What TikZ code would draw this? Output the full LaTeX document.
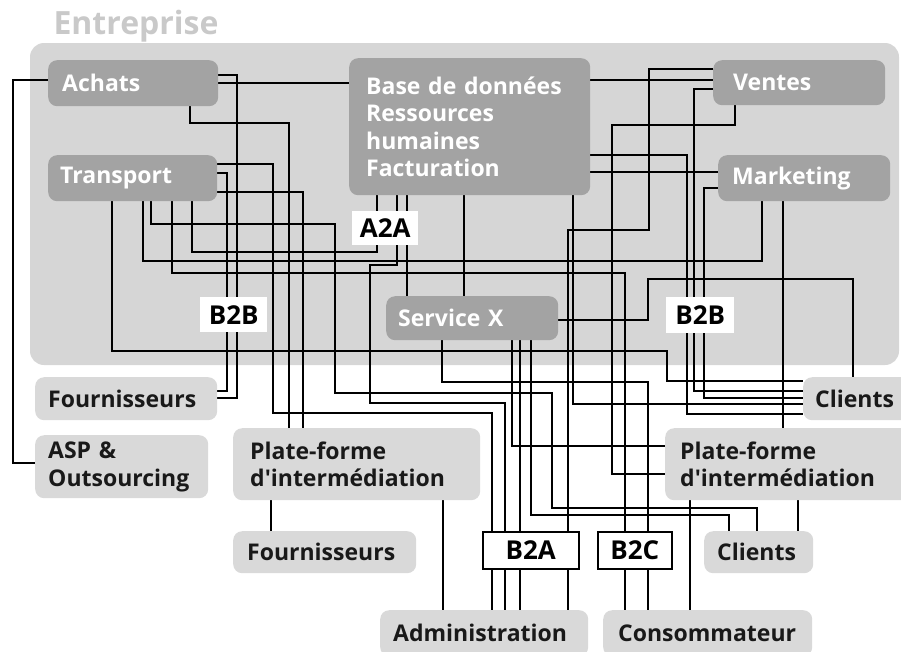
\documentclass[tikz,border=0pt]{standalone}
\usepackage{fontspec}
\setmainfont{Open Sans}
\usetikzlibrary{positioning}

\definecolor{entgris}{gray}{0.84}
\definecolor{boxfonce}{gray}{0.64}
\definecolor{boxclair}{gray}{0.85}
\definecolor{titregris}{gray}{0.79}

\pgfdeclarelayer{fond}
\pgfdeclarelayer{fils}
\pgfsetlayers{fond,fils,main}

\begin{document}
\begin{tikzpicture}[x=1pt, y=-1pt,
    fonce/.style={fill=boxfonce, rounded corners=9pt, text=white, align=left,
        font=\bfseries\fontsize{23}{27.5}\selectfont, inner xsep=14pt, inner ysep=0pt,
        minimum height=46pt, anchor=north west},
    clair/.style={fonce, fill=boxclair, text=black!90},
    etiq/.style={fill=white, inner sep=0pt, anchor=north west,
        font=\bfseries\fontsize{26}{28}\selectfont},
    fil/.style={draw=black, line width=1.8pt}]

    % page and frame
    \useasboundingbox (0,0) rectangle (901,651);
    \clip (0,0) rectangle (901,651);
    \node[anchor=base west, text=titregris, font=\bfseries\fontsize{32}{34}\selectfont] (titre) at (50,34) {Entreprise};
    \begin{pgfonlayer}{fond}
        \fill[entgris, rounded corners=14pt] (30,43) rectangle (899,365);
    \end{pgfonlayer}

    % inside the company
    \node[fonce, text width=142pt] (achats) at (48,60) {Achats};
    \node[fonce, text width=145pt, inner xsep=12pt] (transport) at (48,155) {Transport};
    \node[fonce, text width=207pt, inner xsep=17pt, minimum height=137pt] (bdd) at (349,58)
        {Base de données\\Ressources\\humaines\\Facturation};
    \node[fonce, text width=132pt, inner xsep=20pt, minimum height=45pt] (ventes) at (713,60) {Ventes};
    \node[fonce, text width=144pt] (marketing) at (718,155) {Marketing};
    \node[fonce, text width=148pt, inner xsep=12pt, minimum height=44pt] (servicex) at (386,296) {Service X};

    % outside partners
    \node[clair, text width=156pt, inner xsep=13pt, minimum height=43pt] (fourn1) at (35,377) {Fournisseurs};
    \node[clair, text width=147pt, inner xsep=13pt, minimum height=63pt] (asp) at (35,435) {ASP \&\\Outsourcing};
    \node[clair, text width=213pt, inner xsep=17pt, minimum height=72pt] (pfl) at (233,428)
        {Plate-forme\\d\textquotesingle intermédiation};
    \node[clair, text width=155pt, minimum height=42pt] (fourn2) at (233,531) {Fournisseurs};
    \node[clair, text width=83pt, inner xsep=12pt, minimum height=43pt] (clientsr) at (803,377) {Clients};
    \node[clair, text width=215pt, inner xsep=15pt, minimum height=72pt] (pfr) at (665,428)
        {Plate-forme\\d\textquotesingle intermédiation};
    \node[clair, text width=83pt, inner xsep=13pt, minimum height=42pt] (clientsb) at (704,531) {Clients};
    \node[clair, text width=182pt, inner xsep=13pt] (admin) at (380,610) {Administration};
    \node[clair, text width=179pt, inner xsep=15pt] (conso) at (603,610) {Consommateur};

    % connectors
    \begin{pgfonlayer}{fils}
        \draw[fil] (achats.west |- 0,80) -| (13,463) -- (asp.west |- 0,463);
        \draw[fil] (achats.east |- 0,75) -| (237,398) -- (fourn1.east |- 0,398);
        \draw[fil] (achats.east |- 0,83) -- (bdd.west |- 0,83);
        \draw[fil] (achats.south -| 190,0) |- (289,123) -- (pfl.north -| 289,0);
        \draw[fil] (transport.east |- 0,164) -| (273,413) -| (admin.north -| 492,0);
        \draw[fil] (transport.east |- 0,173) -| (227,391) -- (fourn1.east |- 0,391);
        \draw[fil] (transport.east |- 0,192) -| (pfl.north -| 303,0);
        \draw[fil] (transport.south -| 112,0) |- (667,351) |- (clientsr.west |- 0,381);
        \draw[fil] (transport.south -| 143,0) |- (762,261) -- (marketing.south -| 762,0);
        \draw[fil] (transport.south -| 151,0) |- (335,224) |- (552,393) |- (757,508) -- (clientsb.north -| 757,0);
        \draw[fil] (transport.south -| 172,0) |- (625,273) -- (conso.north -| 625,0);
        \draw[fil] (transport.south -| 192,0) |- (377,252) -- (bdd.south -| 377,0);
        \draw[fil] (bdd.south -| 397,0) |- (370,265) |- (505,403) -- (admin.north -| 505,0);
        \draw[fil] (bdd.south -| 407,0) -- (servicex.north -| 407,0);
        \draw[fil] (bdd.south -| 464,0) -- (servicex.north -| 464,0);
        \draw[fil] (bdd.south -| 573,0) |- (clientsr.west |- 0,404);
        \draw[fil] (bdd.east |- 0,80) -- (ventes.west |- 0,80);
        \draw[fil] (bdd.east |- 0,155) -| (687,414) -- (clientsr.west |- 0,414);
        \draw[fil] (bdd.east |- 0,172) -- (marketing.west |- 0,172);
        \draw[fil] (ventes.west |- 0,69) -| (649,230) -| (admin.north -| 568,0);
        \draw[fil] (ventes.west |- 0,89) -| (694,391) -- (clientsr.west |- 0,391);
        \draw[fil] (ventes.south -| 735,0) |- (612,125) |- (pfr.west |- 0,474);
        \draw[fil] (marketing.west |- 0,188) -| (704,398) -- (clientsr.west |- 0,398);
        \draw[fil] (marketing.south -| 783,0) -- (pfr.north -| 783,0);
        \draw[fil] (servicex.east |- 0,320) -| (648,279) -| (clientsr.north -| 853,0);
        \draw[fil] (servicex.south -| 442,0) |- (648,382) -- (conso.north -| 648,0);
        \draw[fil] (servicex.south -| 512,0) |- (pfr.west |- 0,446);
        \draw[fil] (servicex.south -| 520,0) -- (admin.north -| 520,0);
        \draw[fil] (servicex.south -| 531,0) |- (729,515) -- (clientsb.north -| 729,0);
        \draw[fil] (pfl.south -| 271,0) -- (fourn2.north -| 271,0);
        \draw[fil] (pfl.south -| 443,0) -- (admin.north -| 443,0);
        \draw[fil] (pfr.south -| 690,0) -- (conso.north -| 690,0);
        \draw[fil] (pfr.south -| 798,0) -- (clientsb.north -| 798,0);
    \end{pgfonlayer}

    % exchange labels
    \node[etiq, minimum width=66pt, minimum height=34pt] (a2a) at (352,211) {A2A};
    \node[etiq, minimum width=67pt, minimum height=35pt] (b2bg) at (200,297) {B2B};
    \node[etiq, minimum width=68pt, minimum height=36pt] (b2bd) at (666,297) {B2B};
    \node[etiq, draw=black, line width=1.5pt, minimum width=96pt, minimum height=37pt] (b2a) at (482,531) {B2A};
    \node[etiq, draw=black, line width=1.5pt, minimum width=74pt, minimum height=37pt] (b2c) at (597,531) {B2C};

\end{tikzpicture}
\end{document}
